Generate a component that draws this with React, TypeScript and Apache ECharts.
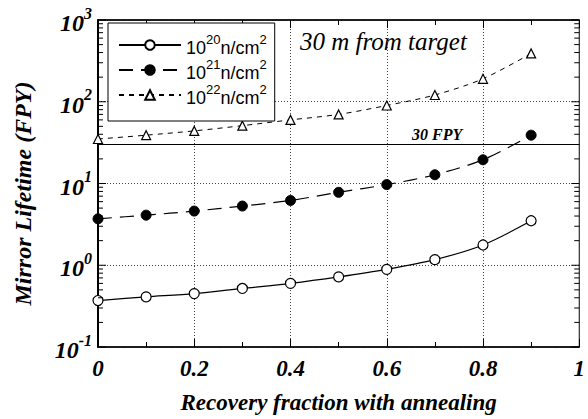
import React, { useEffect, useRef } from "react";
import * as echarts from "echarts";

const fractions = [0, 0.1, 0.2, 0.3, 0.4, 0.5, 0.6, 0.7, 0.8, 0.9];
const life1e20 = [0.37, 0.41, 0.45, 0.52, 0.6, 0.72, 0.89, 1.17, 1.77, 3.5];
const life1e21 = [3.7, 4.1, 4.6, 5.3, 6.2, 7.8, 9.7, 12.8, 19.5, 39];
const life1e22 = [35, 39, 44, 51, 60, 70, 90, 121, 191, 390];
const seriesNames = ["10^20 n/cm^2", "10^21 n/cm^2", "10^22 n/cm^2"];
const fluenceExp = [20, 21, 22];
const yDecades = [0.1, 1, 10, 100, 1000];
const targetLifetime = 30;
const targetLabel = "30 FPY";
const distanceLabel = "30 m from target";
const xName = "Recovery fraction with annealing";
const yName = "Mirror Lifetime (FPY)";

const SERIF = "Liberation Serif";
const SANS = "Liberation Sans";

export default function App() {
  const ref = useRef<HTMLDivElement>(null);
  useEffect(() => {
    if (!ref.current) return;
    const chart = echarts.init(ref.current, undefined, { renderer: "svg" });

    const yTickData: number[][] = [];
    yDecades.forEach((d, i) => {
      yTickData.push([0, d, 1]);
      if (i < yDecades.length - 1) {
        for (let m = 2; m <= 9; m++) yTickData.push([0, d * m, 0]);
      }
    });

    const lineBase = (name: string, data: number[], idx: number) => ({
      name,
      type: "line",
      data: fractions.map((f, i) => [f, data[i]]),
      symbolSize: idx === 2 ? 9 : 10,
      smooth: 0.3,
      z: 3,
    });

    const option: any = {
      animation: false,
      backgroundColor: "#fff",
      grid: {
        left: 98,
        right: 4,
        top: 20,
        bottom: 68,
        show: true,
        borderColor: "#000",
        borderWidth: 1,
      },
      legend: {
        orient: "vertical",
        left: 108,
        top: 23,
        data: seriesNames,
        borderColor: "#000",
        borderWidth: 1,
        backgroundColor: "#fff",
        padding: [10, 8, 14, 10],
        itemWidth: 62,
        itemHeight: 12,
        itemGap: 1,
        formatter: (name: string) => {
          const i = seriesNames.indexOf(name);
          return `{b|10}{s|${fluenceExp[i]}}{b|n/cm}{s|2}`;
        },
        textStyle: {
          color: "#000",
          rich: {
            b: { fontSize: 18, fontFamily: SANS, lineHeight: 24, verticalAlign: "bottom", color: "#000" },
            s: { fontSize: 13, fontFamily: SANS, verticalAlign: "top", color: "#000" },
          },
        },
      },
      xAxis: [
        {
          type: "value",
          min: 0,
          max: 1,
          interval: 0.2,
          name: xName,
          nameLocation: "middle",
          nameGap: 44,
          nameTextStyle: {
            fontFamily: SERIF,
            fontWeight: "bold",
            fontStyle: "italic",
            fontSize: 23,
            color: "#000",
          },
          axisLine: { lineStyle: { color: "#000", width: 1.5 } },
          axisTick: { inside: true, length: 8, lineStyle: { color: "#000" } },
          minorTick: { show: true, splitNumber: 2, length: 5, lineStyle: { color: "#000" } },
          axisLabel: {
            margin: 10,
            fontFamily: SERIF,
            fontWeight: "bold",
            fontStyle: "italic",
            fontSize: 23,
            color: "#000",
          },
          splitLine: { show: true, lineStyle: { color: "#444", type: [1, 2], width: 1 } },
        },
        {
          type: "value",
          position: "top",
          min: 0,
          max: 1,
          interval: 0.2,
          axisLine: { lineStyle: { color: "#000", width: 1.5 } },
          axisTick: { inside: true, length: 8, lineStyle: { color: "#000" } },
          minorTick: { show: true, splitNumber: 2, length: 5, lineStyle: { color: "#000" } },
          axisLabel: { show: false },
          splitLine: { show: false },
        },
      ],
      yAxis: {
        type: "log",
        logBase: 10,
        min: 0.1,
        max: 1000,
        name: yName,
        nameLocation: "middle",
        nameRotate: 90,
        nameGap: 63,
        nameTextStyle: {
          fontFamily: SERIF,
          fontWeight: "bold",
          fontStyle: "italic",
          fontSize: 24,
          color: "#000",
          padding: [0, 0, 0, -20],
        },
        axisLine: { show: true, lineStyle: { color: "#000", width: 2 } },
        axisTick: { show: false },
        axisLabel: {
          margin: 6,
          formatter: (v: number) => `{b|10}{s|${Math.round(Math.log10(v))}}`,
          rich: {
            b: {
              fontSize: 24,
              fontFamily: SERIF,
              fontWeight: "bold",
              fontStyle: "italic",
              lineHeight: 30,
              verticalAlign: "bottom",
              color: "#000",
            },
            s: {
              fontSize: 16,
              fontFamily: SERIF,
              fontWeight: "bold",
              fontStyle: "italic",
              verticalAlign: "top",
              color: "#000",
            },
          },
        },
        splitLine: { show: true, lineStyle: { color: "#444", type: [1, 2], width: 1 } },
      },
      series: [
        {
          ...lineBase(seriesNames[0], life1e20, 0),
          symbol: "circle",
          itemStyle: { color: "#fff", borderColor: "#000", borderWidth: 1.2 },
          lineStyle: { color: "#000", width: 1.2, type: "solid" },
          markLine: {
            silent: true,
            symbol: "none",
            label: { show: false },
            lineStyle: { color: "#000", width: 1.2, type: "solid" },
            data: [{ yAxis: targetLifetime }],
          },
        },
        {
          ...lineBase(seriesNames[1], life1e21, 1),
          symbol: "circle",
          itemStyle: { color: "#000", borderColor: "#000", borderWidth: 1 },
          lineStyle: { color: "#000", width: 1.2, type: [14, 8] },
        },
        {
          ...lineBase(seriesNames[2], life1e22, 2),
          symbol: "triangle",
          itemStyle: { color: "#fff", borderColor: "#000", borderWidth: 1.2 },
          lineStyle: { color: "#000", width: 1, type: [5, 5] },
        },
        {
          type: "custom",
          silent: true,
          z: 5,
          data: yTickData,
          encode: { x: 0, y: 1 },
          clip: false,
          renderItem: (_p: any, api: any) => {
            const v = api.value(1);
            const major = api.value(2);
            const a = api.coord([0, v]);
            const b = api.coord([1, v]);
            const len = major ? 8 : 5;
            const style = { stroke: "#000", lineWidth: 1 };
            return {
              type: "group",
              children: [
                { type: "line", shape: { x1: a[0], y1: a[1], x2: a[0] + len, y2: a[1] }, style },
                { type: "line", shape: { x1: b[0] - len, y1: b[1], x2: b[0], y2: b[1] }, style },
              ],
            };
          },
        },
      ],
      graphic: [
        {
          type: "text",
          left: 300,
          top: 29,
          style: {
            text: distanceLabel,
            fontFamily: SERIF,
            fontStyle: "italic",
            fontSize: 25,
            fill: "#000",
          },
        },
        {
          type: "text",
          left: 412,
          top: 126,
          style: {
            text: targetLabel,
            fontFamily: SERIF,
            fontStyle: "italic",
            fontWeight: "bold",
            fontSize: 16,
            fill: "#000",
          },
        },
      ],
    };
    chart.setOption(option);
    return () => chart.dispose();
  }, []);
  return <div ref={ref} style={{ width: 588, height: 419, position: "absolute", left: 0, top: 0 }} />;
}
